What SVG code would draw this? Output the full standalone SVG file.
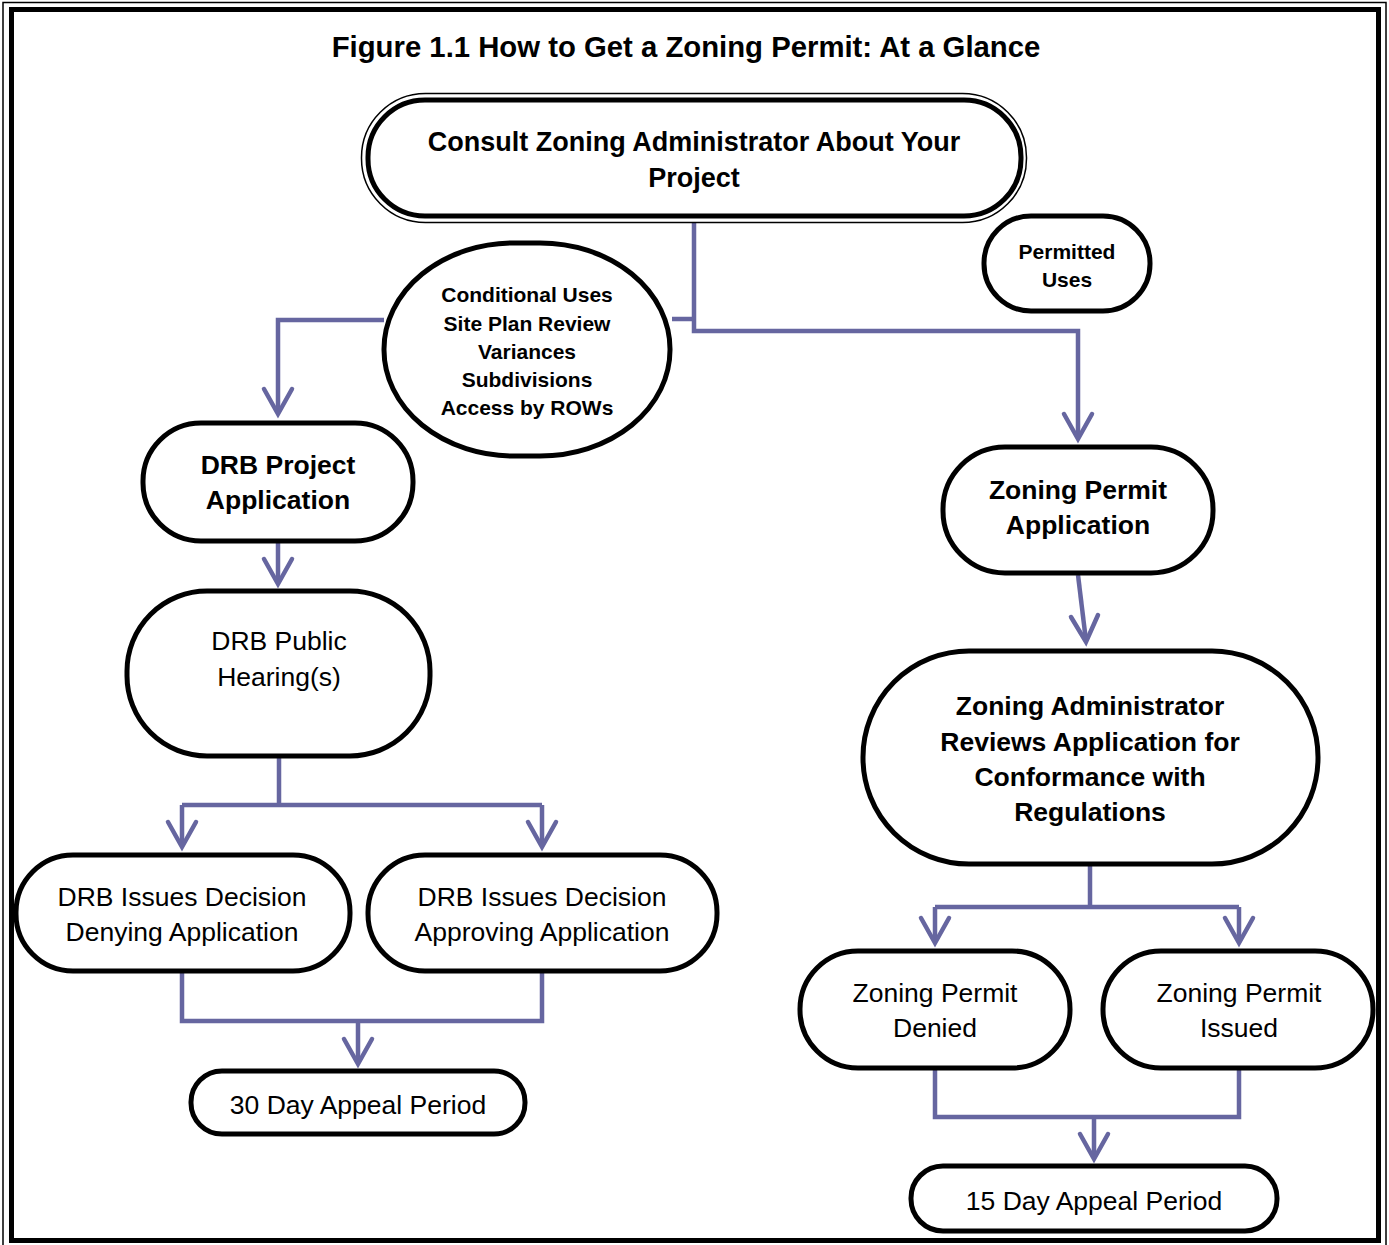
<svg xmlns="http://www.w3.org/2000/svg" width="1389" height="1245" viewBox="0 0 1389 1245">
<defs>
<style>
.node{fill:#fff;stroke:#000;stroke-width:5}
.thin{fill:none;stroke:#000;stroke-width:1.5}
.b{font-family:"Liberation Sans",Arial,sans-serif;font-weight:bold;fill:#000;text-anchor:middle;font-size:26.5px}
.r{font-family:"Liberation Sans",Arial,sans-serif;fill:#000;text-anchor:middle;font-size:26.5px}
.s{font-size:21px}
.conn{fill:none;stroke:#6666a0;stroke-width:4.5}
.head{fill:none;stroke:#6666a0;stroke-width:4.5;stroke-linecap:round;stroke-linejoin:miter}
</style>
</defs>
<rect width="1389" height="1245" fill="#fff"/>
<g id="frame">
<rect x="3" y="2.5" width="1383" height="1250" fill="none" stroke="#000" stroke-width="1.5"/>
<rect x="11.5" y="9.5" width="1367" height="1231" fill="none" stroke="#000" stroke-width="5"/>
</g>
<text class="b" x="686" y="57" style="font-size:29.3px">Figure 1.1 How to Get a Zoning Permit: At a Glance</text>
<g id="connectors">
<path class="conn" d="M694,222 V331 H1078 V438"/>
<path class="conn" d="M672,319 H694"/>
<path class="conn" d="M384,320 H278 V413"/>
<path class="conn" d="M278,543 V583"/>
<path class="conn" d="M279,758 V805 M182,805 H542 M182,805 V846 M542,805 V846"/>
<path class="conn" d="M182,973 V1021 H542 V973 M358,1021 V1063"/>
<path class="conn" d="M1078,575 L1086,641"/>
<path class="conn" d="M1090,866 V907 M935,907 H1239 M935,907 V942 M1239,907 V942"/>
<path class="conn" d="M935,1070 V1117 H1239 V1070 M1094,1117 V1158"/>
<path class="head" d="M264,389 L278,414 L292,389"/>
<path class="head" d="M264,559 L278,584 L292,559"/>
<path class="head" d="M168,822 L182,847 L196,822"/>
<path class="head" d="M528,822 L542,847 L556,822"/>
<path class="head" d="M344,1039 L358,1064 L372,1039"/>
<path class="head" d="M1064,414 L1078,439 L1092,414"/>
<path class="head" d="M1071,617 L1086,642 L1098,615"/>
<path class="head" d="M921,918 L935,943 L949,918"/>
<path class="head" d="M1225,918 L1239,943 L1253,918"/>
<path class="head" d="M1080,1134 L1094,1159 L1108,1134"/>
</g>
<g id="consult">
<rect class="thin" x="361.5" y="93.5" width="665" height="129" rx="64"/>
<rect class="node" x="368" y="100" width="653" height="116" rx="57" stroke-width="6"/>
<text class="b" x="694" y="151" style="font-size:27px">Consult Zoning Administrator About Your</text>
<text class="b" x="694" y="187" style="font-size:27px">Project</text>
</g>
<g id="permitted">
<rect class="node" x="984" y="216" width="166" height="95" rx="47"/>
<text class="b s" x="1067" y="259">Permitted</text>
<text class="b s" x="1067" y="287">Uses</text>
</g>
<g id="conditional">
<rect class="node" x="384" y="243" width="286" height="213" rx="130" ry="106"/>
<text class="b s" x="527" y="302">Conditional Uses</text>
<text class="b s" x="527" y="331">Site Plan Review</text>
<text class="b s" x="527" y="359">Variances</text>
<text class="b s" x="527" y="387">Subdivisions</text>
<text class="b s" x="527" y="415">Access by ROWs</text>
</g>
<g id="drbproject">
<rect class="node" x="143" y="423" width="270" height="118" rx="58"/>
<text class="b" x="278" y="474">DRB Project</text>
<text class="b" x="278" y="509">Application</text>
</g>
<g id="hearing">
<rect class="node" x="127" y="591" width="303" height="165" rx="80"/>
<text class="r" x="279" y="650">DRB Public</text>
<text class="r" x="279" y="686">Hearing(s)</text>
</g>
<g id="denying">
<rect class="node" x="16" y="855" width="334" height="116" rx="57"/>
<text class="r" x="182" y="906">DRB Issues Decision</text>
<text class="r" x="182" y="941">Denying Application</text>
</g>
<g id="approving">
<rect class="node" x="368" y="855" width="349" height="116" rx="57"/>
<text class="r" x="542" y="906">DRB Issues Decision</text>
<text class="r" x="542" y="941">Approving Application</text>
</g>
<g id="appeal30">
<rect class="node" x="191" y="1071" width="334" height="63" rx="31"/>
<text class="r" x="358" y="1114">30 Day Appeal Period</text>
</g>
<g id="zpapp">
<rect class="node" x="943" y="447" width="270" height="126" rx="62"/>
<text class="b" x="1078" y="499">Zoning Permit</text>
<text class="b" x="1078" y="534">Application</text>
</g>
<g id="reviews">
<rect class="node" x="863" y="651" width="455" height="213" rx="106"/>
<text class="b" x="1090" y="715">Zoning Administrator</text>
<text class="b" x="1090" y="751">Reviews Application for</text>
<text class="b" x="1090" y="786">Conformance with</text>
<text class="b" x="1090" y="821">Regulations</text>
</g>
<g id="denied">
<rect class="node" x="800" y="951" width="270" height="117" rx="58"/>
<text class="r" x="935" y="1002">Zoning Permit</text>
<text class="r" x="935" y="1037">Denied</text>
</g>
<g id="issued">
<rect class="node" x="1103" y="951" width="270" height="117" rx="58"/>
<text class="r" x="1239" y="1002">Zoning Permit</text>
<text class="r" x="1239" y="1037">Issued</text>
</g>
<g id="appeal15">
<rect class="node" x="911" y="1166" width="366" height="65" rx="32"/>
<text class="r" x="1094" y="1210">15 Day Appeal Period</text>
</g>
</svg>
